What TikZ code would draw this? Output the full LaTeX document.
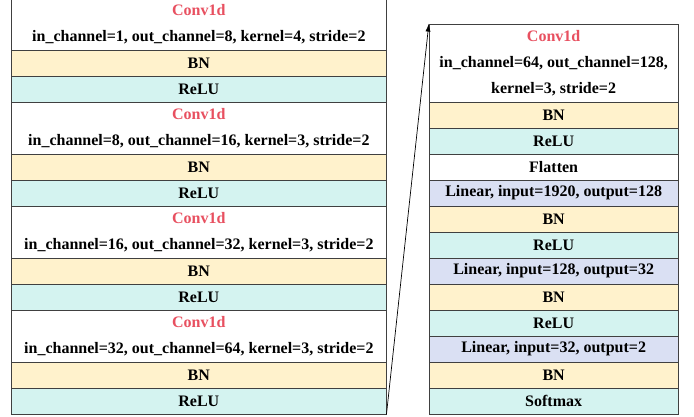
\documentclass[tikz,border=0pt]{standalone}
\usepackage{fontspec}
\setmainfont{Liberation Serif}
\usetikzlibrary{arrows.meta}

\definecolor{convred}{RGB}{232,80,96}
\definecolor{bnfill}{RGB}{255,242,204}
\definecolor{relufill}{RGB}{212,243,240}
\definecolor{linfill}{RGB}{218,224,243}
\definecolor{edge}{RGB}{64,64,64}

\tikzset{
  layer/.style={draw=edge, line width=0.9pt, rectangle, inner sep=0pt,
    align=center, font=\fontsize{16}{26}\selectfont\bfseries},
  lcol/.style={layer, minimum width=374.3pt},
  rcol/.style={layer, minimum width=248.7pt},
  convbox/.style={fill=white, minimum height=#1},
  bnbox/.style={fill=bnfill, minimum height=26pt},
  relubox/.style={fill=relufill, minimum height=26pt},
  linbox/.style={fill=linfill, minimum height=26pt},
  plainbox/.style={fill=white, minimum height=26pt},
  link/.style={draw=black, line width=0.7pt, -{Latex[length=8pt,width=5pt]}},
}
\newcommand{\convname}{{\color{convred}Conv1d}}

\begin{document}
\begin{tikzpicture}[x=1pt, y=-1pt]
\useasboundingbox (0,0) rectangle (694,416);

% left column: four convolution blocks, each Conv1d / BN / ReLU
\def\lx{198.85}
\node[lcol, convbox=52pt] (c1) at (\lx,24) {\convname\\in\_channel=1, out\_channel=8, kernel=4, stride=2};
\node[lcol, bnbox]   (b1) at (\lx,63) {BN};
\node[lcol, relubox] (r1) at (\lx,89) {ReLU};

\node[lcol, convbox=52pt] (c2) at (\lx,128) {\convname\\in\_channel=8, out\_channel=16, kernel=3, stride=2};
\node[lcol, bnbox]   (b2) at (\lx,167) {BN};
\node[lcol, relubox] (r2) at (\lx,193) {ReLU};

\node[lcol, convbox=52pt] (c3) at (\lx,232) {\convname\\in\_channel=16, out\_channel=32, kernel=3, stride=2};
\node[lcol, bnbox]   (b3) at (\lx,271) {BN};
\node[lcol, relubox] (r3) at (\lx,297) {ReLU};

\node[lcol, convbox=52pt] (c4) at (\lx,336) {\convname\\in\_channel=32, out\_channel=64, kernel=3, stride=2};
\node[lcol, bnbox]   (b4) at (\lx,375) {BN};
\node[lcol, relubox] (r4) at (\lx,401) {ReLU};

% right column: last convolution block and the classifier head
\def\rx{553.65}
\node[rcol, convbox=78pt] (c5) at (\rx,63) {\convname\\in\_channel=64, out\_channel=128,\\kernel=3, stride=2};
\node[rcol, bnbox]    (b5)  at (\rx,115) {BN};
\node[rcol, relubox]  (r5)  at (\rx,141) {ReLU};
\node[rcol, plainbox] (fl)  at (\rx,167) {Flatten};
\node[rcol, linbox]   (l1)  at (\rx,193) {Linear, input=1920, output=128};
\node[rcol, bnbox]    (b6)  at (\rx,219) {BN};
\node[rcol, relubox]  (r6)  at (\rx,245) {ReLU};
\node[rcol, linbox]   (l2)  at (\rx,271) {Linear, input=128, output=32};
\node[rcol, bnbox]    (b7)  at (\rx,297) {BN};
\node[rcol, relubox]  (r7)  at (\rx,323) {ReLU};
\node[rcol, linbox]   (l3)  at (\rx,349) {Linear, input=32, output=2};
\node[rcol, bnbox]    (b8)  at (\rx,375) {BN};
\node[rcol, relubox]  (sm)  at (\rx,401) {Softmax};

% continuation from the left column into the right one
\draw[link] (r4.south east) -- (c5.north west);
\end{tikzpicture}
\end{document}
